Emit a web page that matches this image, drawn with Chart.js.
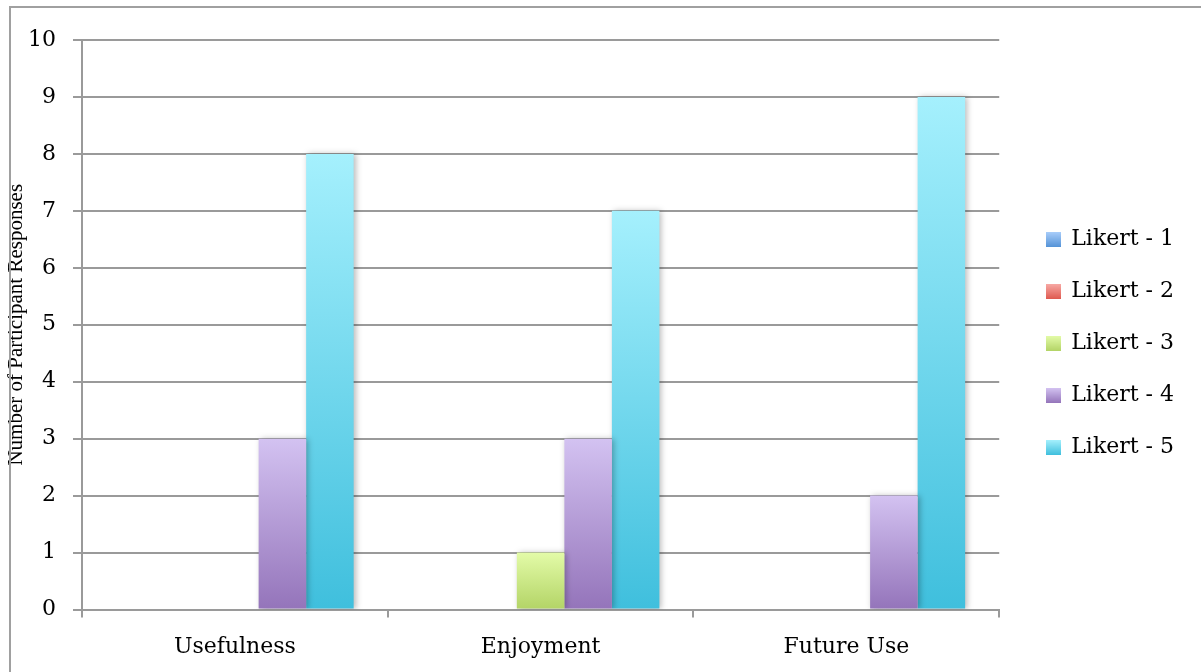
<!DOCTYPE html>
<html>
<head>
<meta charset="utf-8">
<script src="https://cdn.jsdelivr.net/npm/chart.js@4"></script>
<style>
  html, body { margin: 0; padding: 0; background: #fff; }
  #wrap { position: relative; width: 1201px; height: 672px; overflow: hidden; }
  #frame { position: absolute; left: 9px; top: 6px; width: 1300px; height: 800px;
           border-left: 2px solid #a0a0a0; border-top: 2px solid #a0a0a0; box-sizing: border-box; pointer-events: none; }
  canvas { position: absolute; left: 0; top: 0; }
</style>
</head>
<body>
<div id="wrap">
  <canvas id="c" width="1201" height="672"></canvas>
  <div id="frame"></div>
</div>
<script>
const categories = ['Usefulness', 'Enjoyment', 'Future Use'];
const seriesNames = ['Likert - 1', 'Likert - 2', 'Likert - 3', 'Likert - 4', 'Likert - 5'];
const likert1 = [0, 0, 0];
const likert2 = [0, 0, 0];
const likert3 = [0, 1, 0];
const likert4 = [3, 3, 2];
const likert5 = [8, 7, 9];
const yTicks = [0, 1, 2, 3, 4, 5, 6, 7, 8, 9, 10];
const yTitle = 'Number of Participant Responses';

const palette = [
  ['#a8cdfa', '#5593d7'],
  ['#f7a9a4', '#df5a50'],
  ['#e3fba8', '#b3d466'],
  ['#d3c2f1', '#9474ba'],
  ['#a5f0fd', '#3fbfdd']
];
const seriesData = [likert1, likert2, likert3, likert4, likert5];

function legendSwatch(top, bottom) {
  const cv = document.createElement('canvas');
  cv.width = 15; cv.height = 15;
  const g = cv.getContext('2d');
  const gr = g.createLinearGradient(0, 0, 0, 15);
  gr.addColorStop(0, top); gr.addColorStop(1, bottom);
  g.fillStyle = gr; g.fillRect(0, 0, 15, 15);
  return cv;
}

function barFill(i) {
  return function (ctx) {
    const chart = ctx.chart;
    const [top, bottom] = palette[i];
    if (ctx.type !== 'data' || !chart.chartArea) return bottom;
    const ys = chart.scales.y;
    const yTop = ys.getPixelForValue(ctx.raw);
    const yBase = ys.getPixelForValue(0);
    if (!isFinite(yTop) || !isFinite(yBase) || yTop === yBase) return bottom;
    const gr = chart.ctx.createLinearGradient(0, yTop, 0, yBase);
    gr.addColorStop(0, top); gr.addColorStop(1, bottom);
    return gr;
  };
}

const datasets = seriesNames.map((name, i) => ({
  label: name,
  data: seriesData[i],
  backgroundColor: barFill(i),
  borderWidth: 0,
  pointStyle: legendSwatch(palette[i][0], palette[i][1]),
  categoryPercentage: 0.777,
  barPercentage: 1.0
}));

const shadowPlugin = {
  id: 'barShadow',
  beforeDatasetsDraw(chart) {
    const c = chart.ctx;
    c.save();
    c.shadowColor = 'rgba(0,0,0,0.28)';
    c.shadowBlur = 6;
    c.shadowOffsetX = 2;
    c.shadowOffsetY = 0;
  },
  afterDatasetsDraw(chart) { chart.ctx.restore(); }
};

const legendShift = { dx: 17, dy: -12.5 };
const legendPosPlugin = {
  id: 'legendPos',
  afterLayout(chart) {
    const lg = chart.legend;
    if (!lg) return;
    lg.left += legendShift.dx; lg.right += legendShift.dx;
    lg.top += legendShift.dy; lg.bottom += legendShift.dy;
  }
};

const GRID = '#9a9a9a';
const SERIF = '"DejaVu Serif", serif';

new Chart(document.getElementById('c'), {
  type: 'bar',
  data: { labels: categories, datasets },
  plugins: [shadowPlugin, legendPosPlugin],
  options: {
    responsive: false,
    animation: false,
    devicePixelRatio: 1,
    layout: { padding: { top: 40, right: 34, bottom: 0, left: 0 } },
    plugins: {
      tooltip: { enabled: false },
      legend: {
        position: 'right',
        align: 'center',
        labels: {
          usePointStyle: true,
          boxWidth: 14,
          boxHeight: 14,
          padding: 30,
          color: '#000',
          font: { family: SERIF, size: 22 }
        }
      }
    },
    scales: {
      x: {
        grid: { drawOnChartArea: false, drawTicks: true, tickLength: 8, offset: true, color: GRID, lineWidth: 2 },
        border: { display: true, color: GRID, width: 2 },
        ticks: { color: '#000', font: { family: SERIF, size: 22 }, padding: 17, maxRotation: 0 },
        afterFit(s) { s.height = 62.5; }
      },
      y: {
        min: 0, max: 10,
        afterBuildTicks(s) { s.ticks = yTicks.map(v => ({ value: v })); },
        grid: { color: GRID, lineWidth: 2, drawTicks: true, tickLength: 9 },
        border: { display: true, color: GRID, width: 2 },
        ticks: { color: '#000', font: { family: SERIF, size: 22 }, padding: 17 },
        title: {
          display: true, text: yTitle, color: '#000',
          font: { family: '"Liberation Serif", "Times New Roman", serif', size: 21 },
          padding: { top: 4, bottom: 0 }
        },
        afterFit(s) { s.width = 82; }
      }
    }
  }
});
</script>
</body>
</html>
